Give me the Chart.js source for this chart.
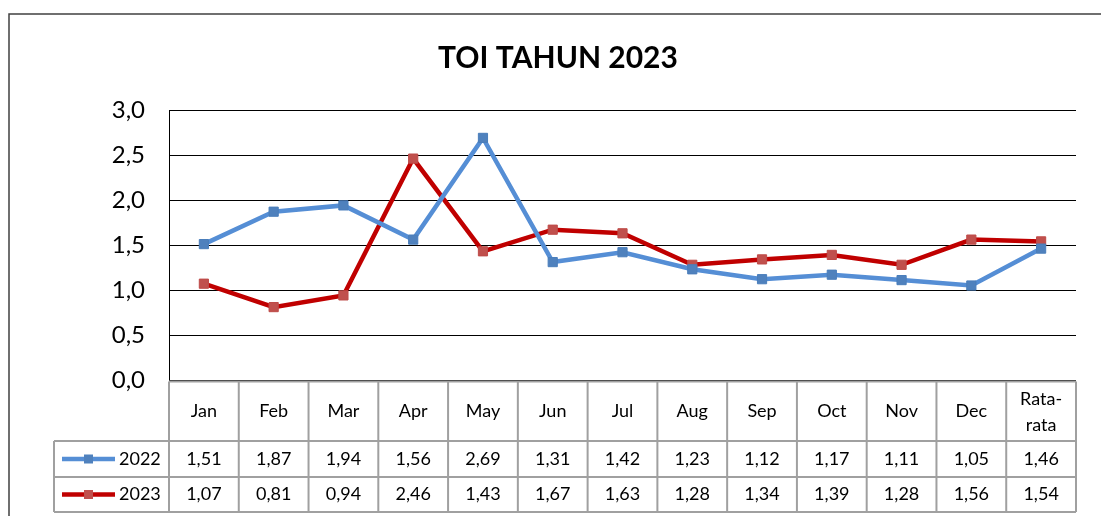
<!DOCTYPE html>
<html>
<head>
<meta charset="utf-8">
<script src="https://cdn.jsdelivr.net/npm/chart.js@4"></script>
<style>
  html, body { margin: 0; padding: 0; background: #fff; }
  #wrap { width: 1101px; height: 516px; }
</style>
</head>
<body>
<div id="wrap"><canvas id="toi" width="1101" height="516"></canvas></div>
<script>
// data
const categories = ['Jan', 'Feb', 'Mar', 'Apr', 'May', 'Jun', 'Jul', 'Aug', 'Sep', 'Oct', 'Nov', 'Dec', 'Rata-rata'];
const toi2022 = [1.51, 1.87, 1.94, 1.56, 2.69, 1.31, 1.42, 1.23, 1.12, 1.17, 1.11, 1.05, 1.46];
const toi2023 = [1.07, 0.81, 0.94, 2.46, 1.43, 1.67, 1.63, 1.28, 1.34, 1.39, 1.28, 1.56, 1.54];
const seriesNames = ['2022', '2023'];
const yTicks = [0, 0.5, 1, 1.5, 2, 2.5, 3];

const FONT = 'Lato, "Open Sans", sans-serif';
const fmt = (v, d) => v.toFixed(d).replace('.', ',');

// frame, title and the data table under the plot
const tablePlugin = {
  id: 'tablePlugin',
  afterDraw(chart) {
    const ctx = chart.ctx;
    const x = chart.scales.x;
    const area = chart.chartArea;
    ctx.save();

    // outer chart border
    ctx.strokeStyle = '#404040';
    ctx.lineWidth = 1.5;
    ctx.beginPath();
    ctx.moveTo(9, 516);
    ctx.lineTo(9, 14);
    ctx.lineTo(1101, 14);
    ctx.stroke();

    // title
    ctx.fillStyle = '#000';
    ctx.font = 'bold 30px ' + FONT;
    ctx.textAlign = 'center';
    ctx.textBaseline = 'middle';
    ctx.fillText('TOI TAHUN 2023', 558, 58);

    const top = area.bottom + 1.5;
    const rowA = 441, rowB = 477, rowC = 512;
    const legLeft = 54;
    const bounds = [x.left];
    for (let i = 0; i < categories.length - 1; i++) {
      bounds.push((x.getPixelForValue(i) + x.getPixelForValue(i + 1)) / 2);
    }
    bounds.push(x.right);

    ctx.strokeStyle = '#a0a0a0';
    ctx.lineWidth = 2;
    ctx.beginPath();
    ctx.moveTo(x.left, top); ctx.lineTo(x.right, top);
    ctx.moveTo(legLeft, rowA); ctx.lineTo(x.right, rowA);
    ctx.moveTo(legLeft, rowB); ctx.lineTo(x.right, rowB);
    ctx.moveTo(legLeft, rowC); ctx.lineTo(x.right, rowC);
    ctx.moveTo(legLeft, rowA); ctx.lineTo(legLeft, rowC);
    bounds.forEach(b => { ctx.moveTo(b, top); ctx.lineTo(b, rowC); });
    ctx.stroke();

    // header row
    ctx.fillStyle = '#000';
    ctx.font = '18px ' + FONT;
    categories.forEach((c, i) => {
      const cx = x.getPixelForValue(i);
      if (c === 'Rata-rata') {
        ctx.fillText('Rata-', cx, 399);
        ctx.fillText('rata', cx, 425);
      } else {
        ctx.fillText(c, cx, 411);
      }
    });

    // value rows + legend keys
    const rows = [[toi2022, (rowA + rowB) / 2], [toi2023, (rowB + rowC) / 2]];
    rows.forEach(([vals, cy], r) => {
      const ds = chart.data.datasets[r];
      ctx.strokeStyle = ds.borderColor;
      ctx.lineWidth = 4.5;
      ctx.beginPath();
      ctx.moveTo(62, cy); ctx.lineTo(115, cy);
      ctx.stroke();
      ctx.fillStyle = ds.pointBackgroundColor;
      ctx.fillRect(84, cy - 4.5, 9, 9);
      ctx.fillStyle = '#000';
      ctx.textAlign = 'left';
      ctx.fillText(seriesNames[r], 119, cy);
      ctx.textAlign = 'center';
      vals.forEach((v, i) => ctx.fillText(fmt(v, 2), x.getPixelForValue(i), cy));
    });
    ctx.restore();
  }
};

new Chart(document.getElementById('toi'), {
  type: 'line',
  data: {
    labels: categories,
    datasets: [
      {
        label: seriesNames[0],
        data: toi2022,
        borderColor: '#558ED5',
        borderWidth: 4.5,
        pointStyle: 'rect',
        pointRadius: 6.5,
        pointBackgroundColor: '#4F81BD',
        pointBorderColor: '#4A7EBB',
        pointBorderWidth: 1,
        tension: 0
      },
      {
        label: seriesNames[1],
        data: toi2023,
        borderColor: '#C00000',
        borderWidth: 4.5,
        pointStyle: 'rect',
        pointRadius: 6.5,
        pointBackgroundColor: '#C0504D',
        pointBorderColor: '#BE4B48',
        pointBorderWidth: 1,
        tension: 0
      }
    ]
  },
  options: {
    responsive: false,
    animation: false,
    layout: { padding: { left: 0, right: 25, top: 110, bottom: 136 } },
    plugins: {
      legend: { display: false },
      title: { display: false },
      tooltip: { enabled: false }
    },
    scales: {
      x: {
        type: 'category',
        offset: true,
        display: false
      },
      y: {
        min: 0,
        max: 3,
        afterBuildTicks: (scale) => { scale.ticks = yTicks.map(v => ({ value: v })); },
        afterFit: (scale) => { scale.width = 169; },
        grid: { color: '#000', lineWidth: 1, drawTicks: false },
        border: { display: true, color: '#000', width: 1 },
        ticks: {
          padding: 24,
          color: '#000',
          font: { family: FONT, size: 24 },
          callback: (v) => fmt(v, 1)
        }
      }
    }
  },
  plugins: [tablePlugin]
});
</script>
</body>
</html>
